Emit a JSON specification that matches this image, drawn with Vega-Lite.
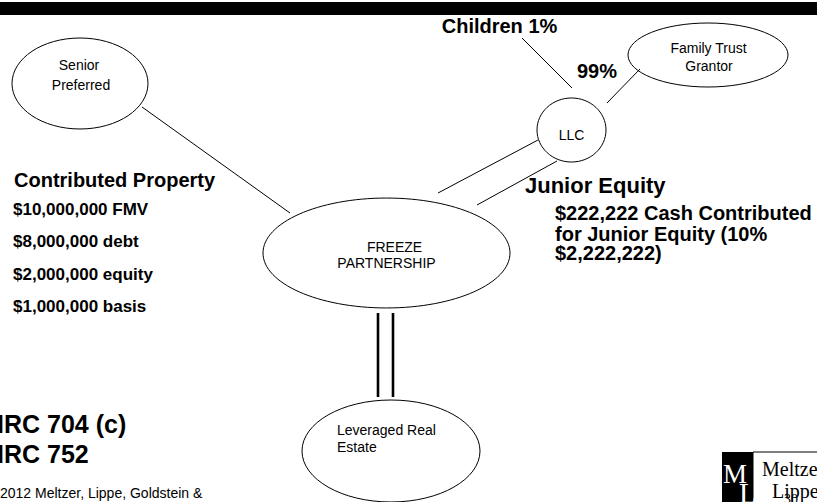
{
  "$schema": "https://vega.github.io/schema/vega-lite/v6.json",
  "width": 817,
  "height": 502,
  "padding": 0,
  "autosize": {"type": "none"},
  "background": "white",
  "config": {"view": {"stroke": null}},
  "datasets": {
    "bars": [
      {"x": 0, "x2": 817, "y": 2, "y2": 15}
    ],
    "logoDark": [
      {"x": 722, "x2": 753, "y": 452, "y2": 503}
    ],
    "logoLight": [
      {"x": 753, "x2": 830, "y": 452, "y2": 510}
    ],
    "nodes": [
      {"name": "senior", "x": 80, "y": 83.5, "w": 136},
      {"name": "freeze", "x": 386.5, "y": 253, "w": 247},
      {"name": "llc", "x": 571.5, "y": 130, "w": 69},
      {"name": "trust", "x": 708, "y": 55, "w": 160},
      {"name": "estate", "x": 391, "y": 451, "w": 178}
    ],
    "links": [
      {"x": 142, "y": 107, "x2": 290, "y2": 213},
      {"x": 522, "y": 38, "x2": 572, "y2": 88},
      {"x": 607, "y": 103, "x2": 640, "y2": 69},
      {"x": 538, "y": 140, "x2": 438, "y2": 193},
      {"x": 557, "y": 161, "x2": 477, "y2": 205}
    ],
    "thickLinks": [
      {"x": 378, "y": 313, "x2": 378, "y2": 397},
      {"x": 393, "y": 313, "x2": 393, "y2": 397}
    ],
    "bold20c": [
      {"label": "Children 1%", "x": 499.5, "y": 33},
      {"label": "99%", "x": 597, "y": 78}
    ],
    "bold20l": [
      {"label": "Contributed Property", "x": 14, "y": 187},
      {"label": "$222,222 Cash Contributed", "x": 555, "y": 220},
      {"label": "for Junior Equity (10%", "x": 555, "y": 241},
      {"label": "$2,222,222)", "x": 555, "y": 260}
    ],
    "bold22l": [
      {"label": "Junior Equity", "x": 525, "y": 193}
    ],
    "bold17l": [
      {"label": "$10,000,000 FMV", "x": 13, "y": 215},
      {"label": "$8,000,000 debt", "x": 13, "y": 247},
      {"label": "$2,000,000 equity", "x": 13, "y": 280},
      {"label": "$1,000,000 basis", "x": 13, "y": 312}
    ],
    "bold25l": [
      {"label": "IRC 704 (c)", "x": -3, "y": 433},
      {"label": "IRC 752", "x": -3, "y": 463}
    ],
    "plainC": [
      {"label": "Senior", "x": 79, "y": 70},
      {"label": "Preferred", "x": 81, "y": 90},
      {"label": "FREEZE", "x": 394.5, "y": 252},
      {"label": "PARTNERSHIP", "x": 386.5, "y": 268},
      {"label": "LLC", "x": 571.5, "y": 140},
      {"label": "Family Trust", "x": 708.5, "y": 52.5},
      {"label": "Grantor", "x": 709, "y": 71}
    ],
    "plainL": [
      {"label": "Leveraged Real", "x": 337, "y": 435},
      {"label": "Estate", "x": 337, "y": 452},
      {"label": "2012 Meltzer, Lippe, Goldstein &", "x": 0, "y": 498}
    ],
    "logoWhite": [
      {"label": "M", "x": 723, "y": 483}
    ],
    "logoWhite2": [
      {"label": "L", "x": 739, "y": 503}
    ],
    "logoText": [
      {"label": "Meltzer", "x": 762, "y": 476},
      {"label": "Lippe", "x": 772, "y": 498}
    ],
    "pageNo": [
      {"label": "30", "x": 784, "y": 504}
    ]
  },
  "encoding": {
    "x": {"field": "x", "type": "quantitative", "scale": {"domain": [0, 817], "nice": false, "zero": false}, "axis": null},
    "y": {"field": "y", "type": "quantitative", "scale": {"domain": [0, 502], "reverse": true, "nice": false, "zero": false}, "axis": null}
  },
  "layer": [
    {
      "data": {"name": "bars"},
      "mark": {"type": "rect", "fill": "black"},
      "encoding": {"x2": {"field": "x2"}, "y2": {"field": "y2"}}
    },
    {
      "data": {"name": "links"},
      "mark": {"type": "rule", "stroke": "black", "strokeWidth": 1},
      "encoding": {"x2": {"field": "x2"}, "y2": {"field": "y2"}}
    },
    {
      "data": {"name": "thickLinks"},
      "mark": {"type": "rule", "stroke": "black", "strokeWidth": 2.6},
      "encoding": {"x2": {"field": "x2"}, "y2": {"field": "y2"}}
    },
    {
      "data": {"name": "nodes"},
      "mark": {"type": "point", "filled": false, "stroke": "black", "strokeWidth": 1, "opacity": 1},
      "encoding": {
        "shape": {
          "field": "name",
          "type": "nominal",
          "legend": null,
          "scale": {
            "domain": ["senior", "freeze", "llc", "trust", "estate"],
            "range": [
              "M -1 0 C -1 -0.3695 -0.5523 -0.669 0 -0.669 C 0.5523 -0.669 1 -0.3695 1 0 C 1 0.3695 0.5523 0.669 0 0.669 C -0.5523 0.669 -1 0.3695 -1 0 Z",
              "M -1 0 C -1 -0.2458 -0.5523 -0.445 0 -0.445 C 0.5523 -0.445 1 -0.2458 1 0 C 1 0.2458 0.5523 0.445 0 0.445 C -0.5523 0.445 -1 0.2458 -1 0 Z",
              "M -1 0 C -1 -0.5125 -0.5523 -0.928 0 -0.928 C 0.5523 -0.928 1 -0.5125 1 0 C 1 0.5125 0.5523 0.928 0 0.928 C -0.5523 0.928 -1 0.5125 -1 0 Z",
              "M -1 0 C -1 -0.2209 -0.5523 -0.4 0 -0.4 C 0.5523 -0.4 1 -0.2209 1 0 C 1 0.2209 0.5523 0.4 0 0.4 C -0.5523 0.4 -1 0.2209 -1 0 Z",
              "M -1 0 C -1 -0.3165 -0.5523 -0.573 0 -0.573 C 0.5523 -0.573 1 -0.3165 1 0 C 1 0.3165 0.5523 0.573 0 0.573 C -0.5523 0.573 -1 0.3165 -1 0 Z"
            ]
          }
        },
        "size": {
          "field": "w",
          "type": "quantitative",
          "legend": null,
          "scale": {"type": "pow", "exponent": 2, "domain": [0, 817], "range": [0, 667489], "zero": true}
        }
      }
    },
    {
      "data": {"name": "bold20c"},
      "mark": {"type": "text", "font": "Liberation Sans", "fontWeight": "bold", "fontSize": 20, "align": "center", "baseline": "alphabetic", "color": "black"},
      "encoding": {"text": {"field": "label"}}
    },
    {
      "data": {"name": "bold20l"},
      "mark": {"type": "text", "font": "Liberation Sans", "fontWeight": "bold", "fontSize": 20, "align": "left", "baseline": "alphabetic", "color": "black"},
      "encoding": {"text": {"field": "label"}}
    },
    {
      "data": {"name": "bold22l"},
      "mark": {"type": "text", "font": "Liberation Sans", "fontWeight": "bold", "fontSize": 22, "align": "left", "baseline": "alphabetic", "color": "black"},
      "encoding": {"text": {"field": "label"}}
    },
    {
      "data": {"name": "bold17l"},
      "mark": {"type": "text", "font": "Liberation Sans", "fontWeight": "bold", "fontSize": 17, "align": "left", "baseline": "alphabetic", "color": "black"},
      "encoding": {"text": {"field": "label"}}
    },
    {
      "data": {"name": "bold25l"},
      "mark": {"type": "text", "font": "Liberation Sans", "fontWeight": "bold", "fontSize": 25, "align": "left", "baseline": "alphabetic", "color": "black"},
      "encoding": {"text": {"field": "label"}}
    },
    {
      "data": {"name": "plainC"},
      "mark": {"type": "text", "font": "Liberation Sans", "fontSize": 14, "align": "center", "baseline": "alphabetic", "color": "black"},
      "encoding": {"text": {"field": "label"}}
    },
    {
      "data": {"name": "plainL"},
      "mark": {"type": "text", "font": "Liberation Sans", "fontSize": 14, "align": "left", "baseline": "alphabetic", "color": "black"},
      "encoding": {"text": {"field": "label"}}
    },
    {
      "data": {"name": "logoLight"},
      "mark": {"type": "rect", "fill": "white", "stroke": "black", "strokeWidth": 1},
      "encoding": {"x2": {"field": "x2"}, "y2": {"field": "y2"}}
    },
    {
      "data": {"name": "logoDark"},
      "mark": {"type": "rect", "fill": "black"},
      "encoding": {"x2": {"field": "x2"}, "y2": {"field": "y2"}}
    },
    {
      "data": {"name": "logoWhite"},
      "mark": {"type": "text", "font": "Liberation Serif", "fontSize": 27, "align": "left", "baseline": "alphabetic", "color": "white"},
      "encoding": {"text": {"field": "label"}}
    },
    {
      "data": {"name": "logoWhite2"},
      "mark": {"type": "text", "font": "Liberation Serif", "fontSize": 29, "align": "left", "baseline": "alphabetic", "color": "white"},
      "encoding": {"text": {"field": "label"}}
    },
    {
      "data": {"name": "logoText"},
      "mark": {"type": "text", "font": "Liberation Serif", "fontSize": 20, "align": "left", "baseline": "alphabetic", "color": "black"},
      "encoding": {"text": {"field": "label"}}
    },
    {
      "data": {"name": "pageNo"},
      "mark": {"type": "text", "font": "Liberation Serif", "fontSize": 14, "align": "left", "baseline": "alphabetic", "color": "black"},
      "encoding": {"text": {"field": "label"}}
    }
  ]
}
